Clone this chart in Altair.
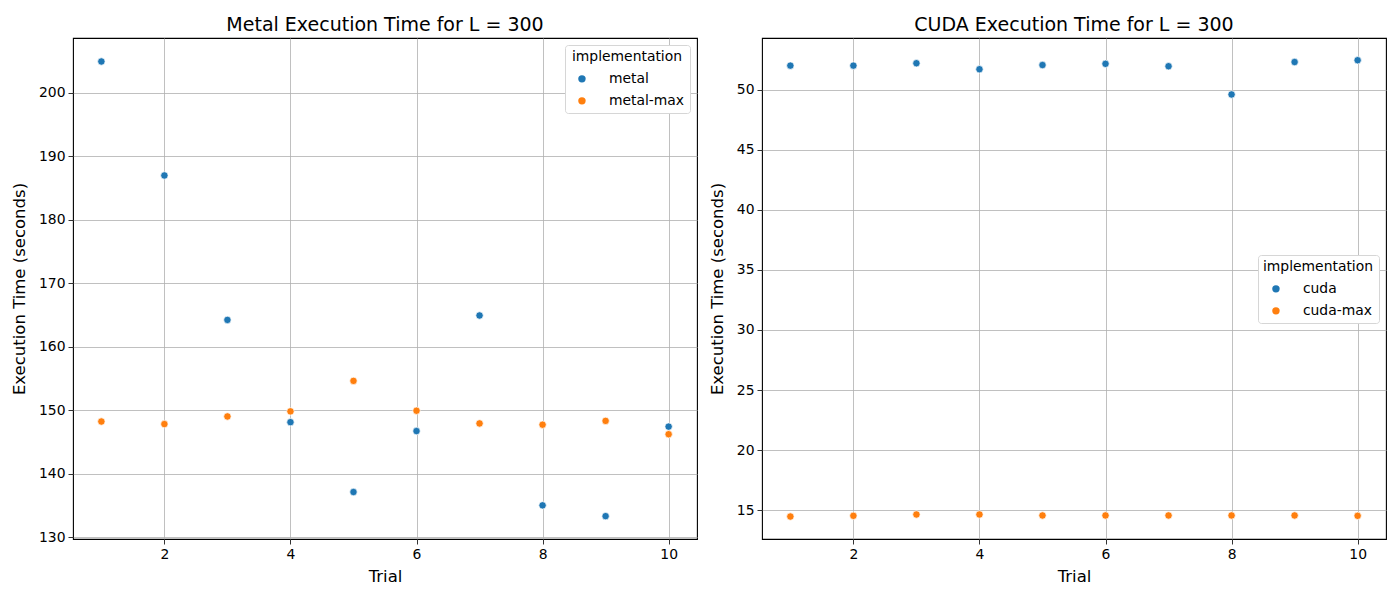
import altair as alt
import pandas as pd

trials = [1, 2, 3, 4, 5, 6, 7, 8, 9, 10]
metal = [204.9, 186.95, 164.2, 148.1, 137.1, 146.7, 164.9, 135.0, 133.3, 147.4]
metal_max = [148.2, 147.8, 149.0, 149.8, 154.6, 149.9, 147.9, 147.7, 148.3, 146.2]
cuda = [52.0, 52.0, 52.2, 51.7, 52.05, 52.15, 51.95, 49.6, 52.3, 52.45]
cuda_max = [14.47, 14.53, 14.64, 14.64, 14.56, 14.56, 14.56, 14.56, 14.56, 14.53]

FONT = "DejaVu Sans"
BLUE = "#1f77b4"
ORANGE = "#ff7f0e"


def long_df(a_name, a_vals, b_name, b_vals):
    rows = []
    for t, v in zip(trials, a_vals):
        rows.append({"Trial": t, "time": v, "implementation": a_name})
    for t, v in zip(trials, b_vals):
        rows.append({"Trial": t, "time": v, "implementation": b_name})
    return pd.DataFrame(rows)


def panel(df, names, title, ydom, yvals, lx, ly):
    return alt.Chart(df).mark_point(
        filled=True, size=55, opacity=1, stroke="white", strokeWidth=0.7
    ).encode(
        x=alt.X("Trial:Q",
                scale=alt.Scale(domain=[0.55, 10.45], nice=False, zero=False),
                axis=alt.Axis(values=[2, 4, 6, 8, 10], title="Trial", format="d",
                              titlePadding=8)),
        y=alt.Y("time:Q",
                scale=alt.Scale(domain=ydom, nice=False, zero=False),
                axis=alt.Axis(values=yvals, title="Execution Time (seconds)", format="d",
                              titlePadding=11)),
        color=alt.Color("implementation:N",
                        scale=alt.Scale(domain=names, range=[BLUE, ORANGE]),
                        legend=alt.Legend(
                            title="implementation", orient="none",
                            legendX=lx, legendY=ly,
                            symbolType="circle", symbolSize=55,
                            symbolStrokeWidth=0, symbolOffset=5,
                            fillColor="white", strokeColor="#d6d6d6",
                            cornerRadius=3, padding=5,
                            titleFontSize=13.9, titleFontWeight="normal",
                            titleFont=FONT, titleColor="black",
                            labelFontSize=13.9, labelFont=FONT, labelColor="black",
                            labelOffset=20, rowPadding=7, titlePadding=8,
                            titleAnchor="middle",
                        )),
    ).properties(
        width=624, height=501,
        title=alt.TitleParams(title, fontSize=19, fontWeight="normal", font=FONT,
                              color="black", offset=3),
    )


left = panel(long_df("metal", metal, "metal-max", metal_max), ["metal", "metal-max"],
             "Metal Execution Time for L = 300", [129.7, 208.6],
             [130, 140, 150, 160, 170, 180, 190, 200], 492, 7)
right = panel(long_df("cuda", cuda, "cuda-max", cuda_max), ["cuda", "cuda-max"],
              "CUDA Execution Time for L = 300", [12.6, 54.3],
              [15, 20, 25, 30, 35, 40, 45, 50], 496, 217)

chart = alt.hconcat(left, right, spacing=10).resolve_scale(color="independent").resolve_legend(
    color="independent"
).configure(
    background="white", padding={"left": 2, "top": 7, "right": 5, "bottom": 5}
).configure_axis(
    grid=True, gridColor="#b0b0b0", gridWidth=0.8,
    domain=False, tickColor="black", tickSize=5, tickWidth=0.8,
    labelFont=FONT, labelFontSize=13.9, labelColor="black", labelPadding=3,
    titleFont=FONT, titleFontSize=16.5, titleFontWeight="normal", titleColor="black",
).configure_view(
    stroke="black", strokeWidth=1.1
)

chart.save("out.html", embed_options={"renderer": "svg", "actions": False})
